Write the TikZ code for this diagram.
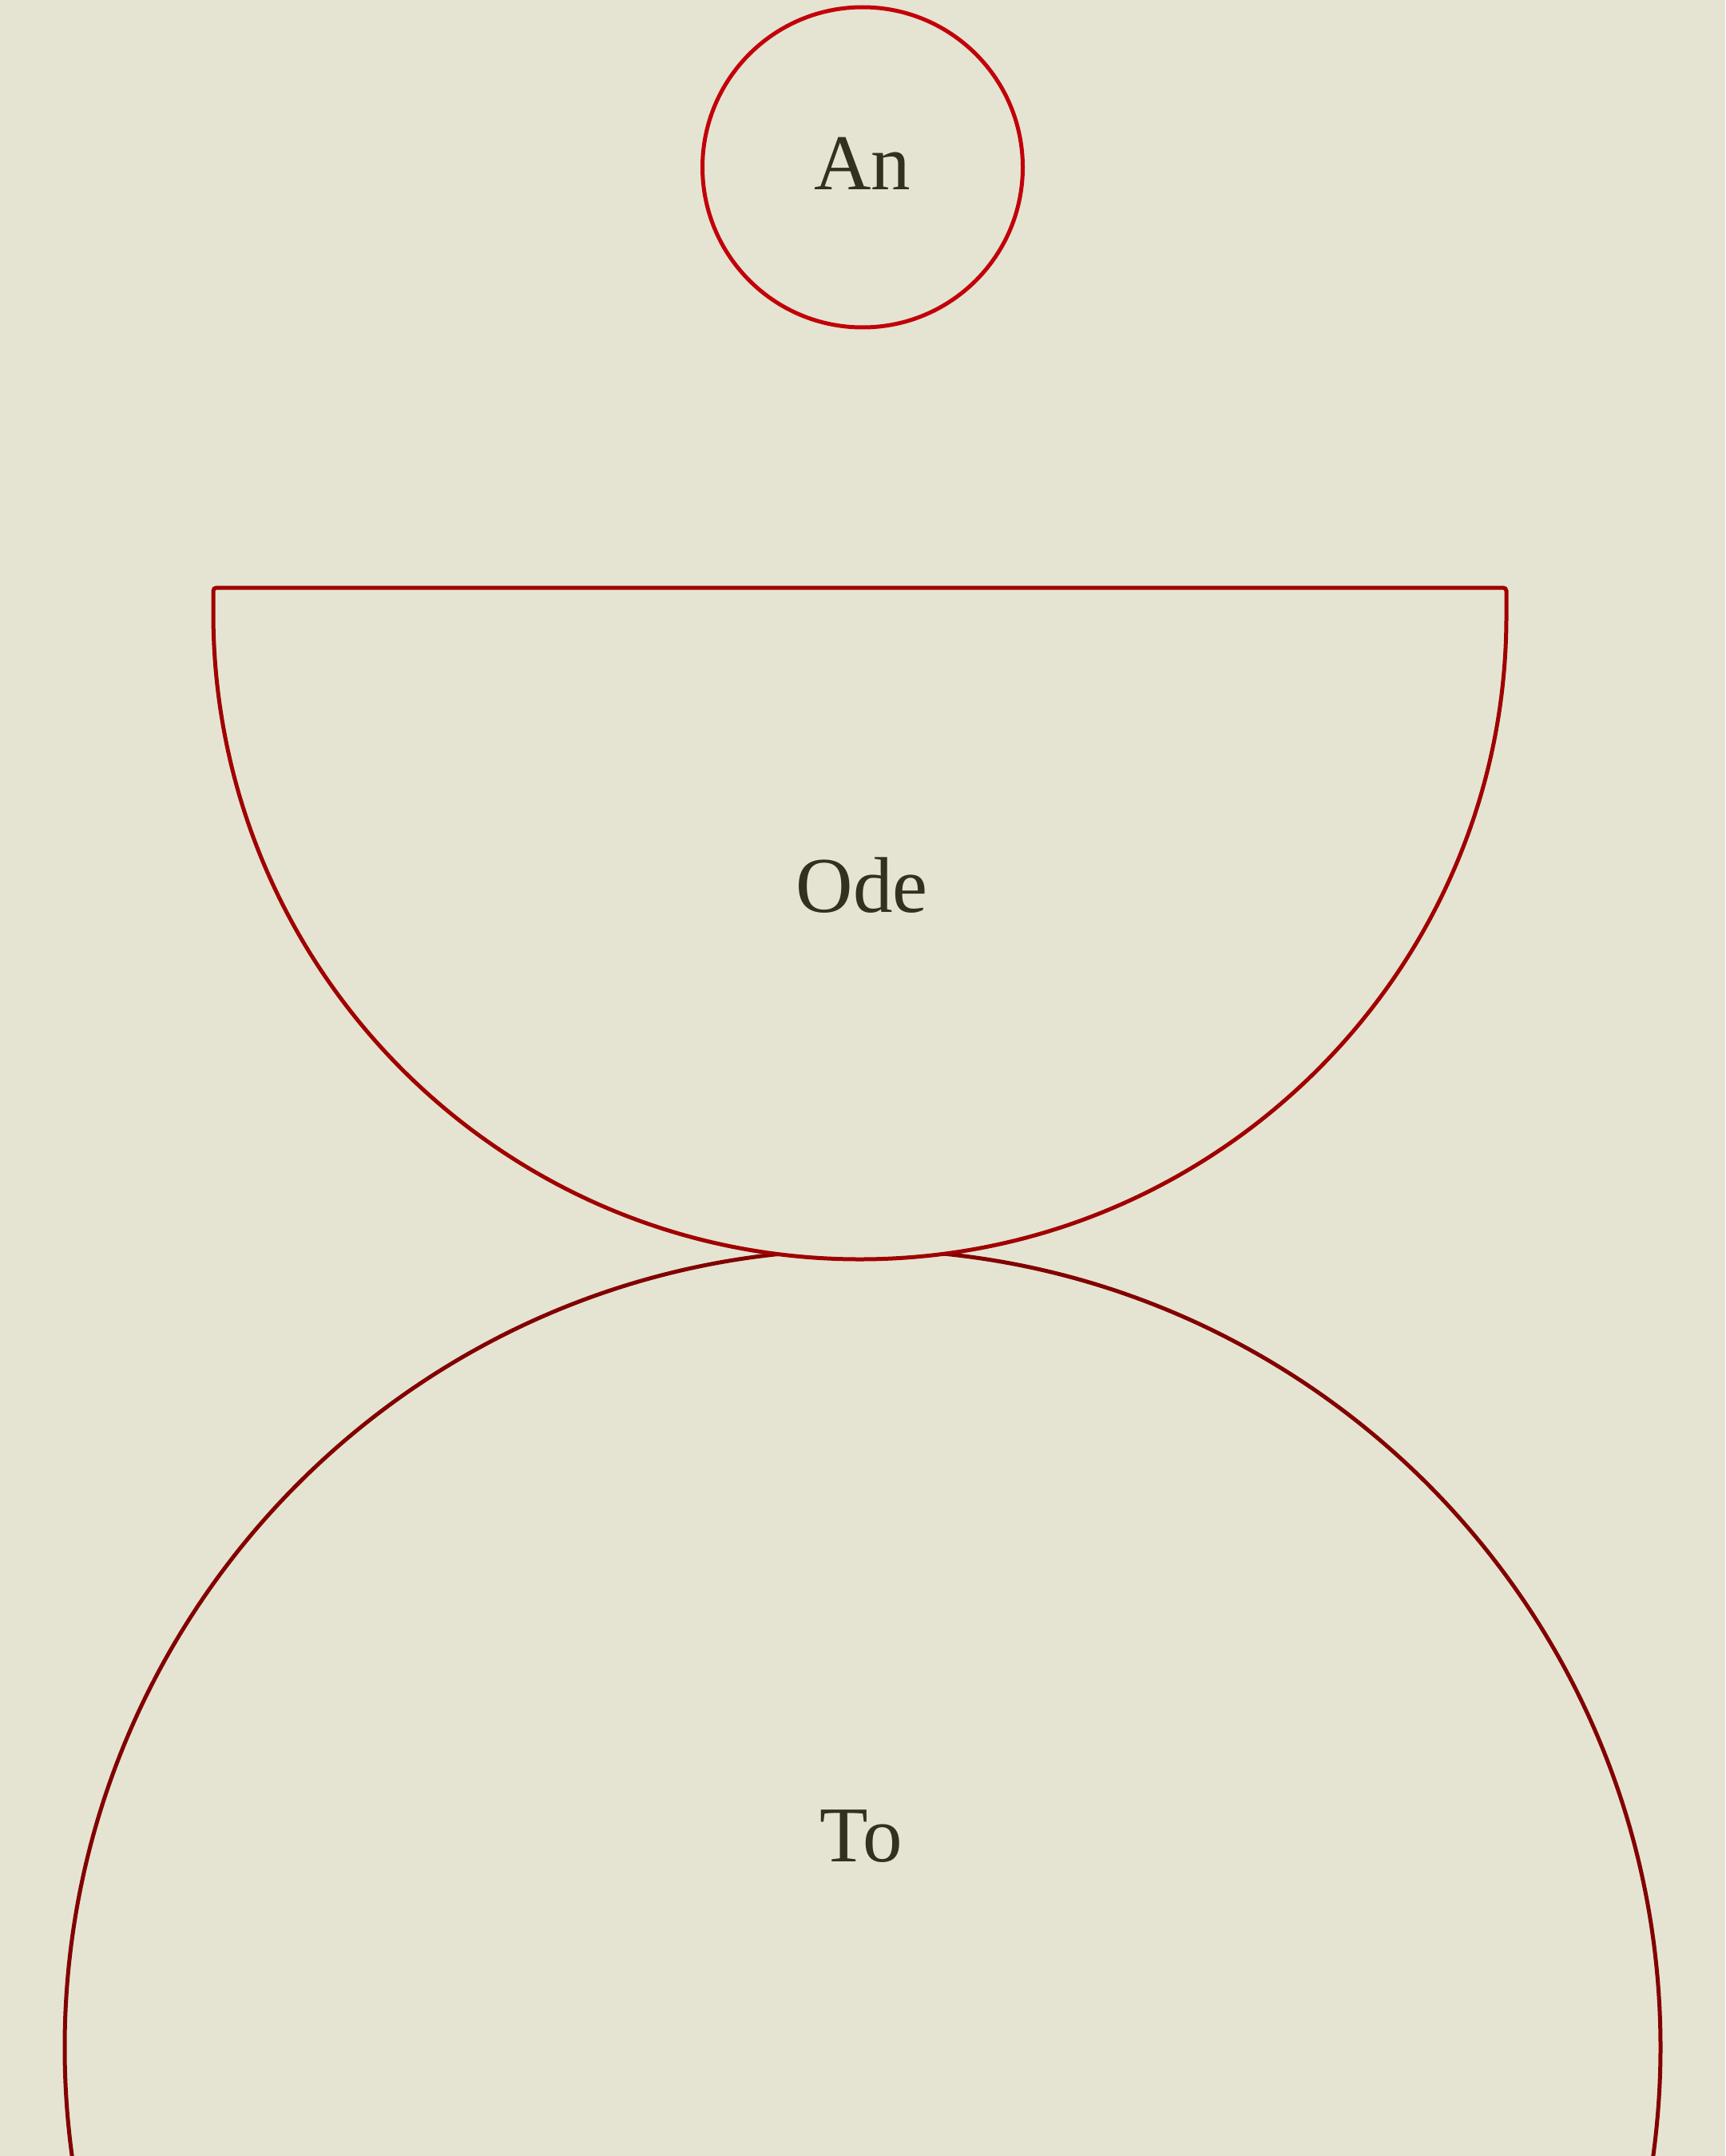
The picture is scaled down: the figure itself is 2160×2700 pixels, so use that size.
\documentclass[tikz,border=0pt]{standalone}
\usepackage{fontspec}
\setmainfont{Liberation Serif}
\definecolor{bg}{HTML}{E5E4D2}
\definecolor{inkA}{HTML}{C2000A}
\definecolor{inkB}{HTML}{A00000}
\definecolor{inkC}{HTML}{820000}
\definecolor{txt}{HTML}{32301E}
\tikzset{
  lbl/.style={text=txt, inner sep=0pt, font=\fontsize{99}{104}\selectfont},
  outline/.style={line width=5pt},
}
\begin{document}
\begin{tikzpicture}[x=1pt,y=-1pt]
\fill[bg] (0,0) rectangle (2160,2700);
\useasboundingbox (0,0) rectangle (2160,2700);
\begin{scope}
\clip (0,0) rectangle (2160,2700);
% To circle
\node[circle, draw=inkC, outline, minimum size=1998pt, inner sep=0pt] (toshape) at (1080,2564) {};
% Ode bowl
\coordinate (odeL) at (267,736);
\coordinate (odeR) at (1886,736);
\filldraw[fill=bg, draw=inkB, outline, rounded corners=4pt]
  (odeL) -- (odeR) -- (1886,767.5) [sharp corners] arc[start angle=0, end angle=180, radius=809.5] -- (267,760) [rounded corners=4pt] -- cycle;
% An circle
\node[circle, draw=inkA, outline, minimum size=401pt, inner sep=0pt] (anshape) at (1080,209.5) {};
\end{scope}
\node[lbl] (an) at (1080,205) {An};
\node[lbl] (ode) at (1079,1108.5) {Ode};
\node[lbl] (to) at (1078,2300) {To};
\end{tikzpicture}
\end{document}
